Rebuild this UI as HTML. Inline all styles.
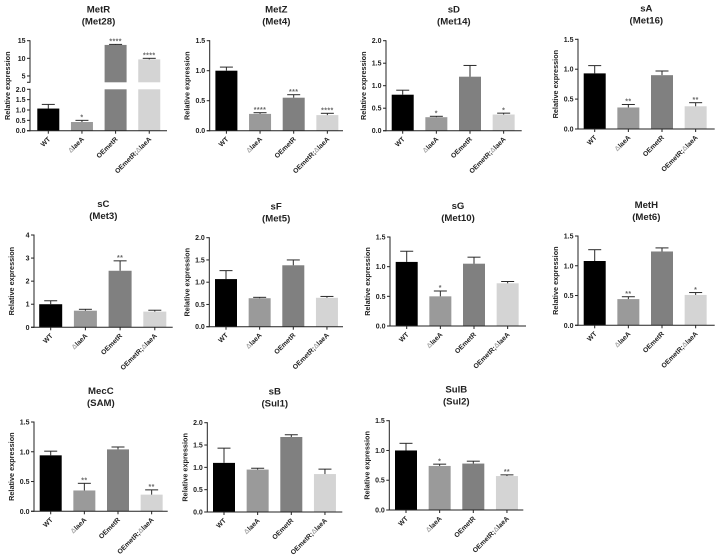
<!DOCTYPE html>
<html lang="en">
<head>
<meta charset="utf-8">
<title>Relative expression bar charts</title>
<style>
html,body{margin:0;padding:0;background:#fff;width:718px;height:558px;overflow:hidden}
svg{display:block;filter:blur(.35px)}
text{font-family:"Liberation Sans",sans-serif;fill:#222}
</style>
</head>
<body>
<svg id="figure" width="718" height="558" viewBox="0 0 718 558" xmlns="http://www.w3.org/2000/svg"></svg>
<script>
// Shared categories and tick labels
const categories = ["WT", "\u0394laeA", "OEmetR", "OEmetR;\u0394laeA"];
const ticks15 = [0, 0.5, 1, 1.5];
const ticks20 = [0, 0.5, 1, 1.5, 2];
const ticks4 = [0, 1, 2, 3, 4];
const ticksBrokenLow = [0, 0.5, 1, 1.5, 2];
const ticksBrokenHigh = [5, 10, 15];

// Means, upper error limits and significance marks
const metRValues = [1.07, 0.42, 13.8, 9.7];
const metRTops = [1.27, 0.5, 13.95, 10];
const metRSig = ["", "*", "****", "****"];
const metZValues = [1.0, 0.28, 0.55, 0.26];
const metZTops = [1.06, 0.3, 0.6, 0.29];
const metZSig = ["", "****", "***", "****"];
const sDValues = [0.8, 0.3, 1.2, 0.36];
const sDTops = [0.9, 0.32, 1.45, 0.39];
const sDSig = ["", "*", "", "*"];
const sAValues = [0.93, 0.36, 0.9, 0.38];
const sATops = [1.06, 0.41, 0.97, 0.44];
const sASig = ["", "**", "", "**"];
const sCValues = [1.0, 0.72, 2.45, 0.68];
const sCTops = [1.15, 0.78, 2.88, 0.74];
const sCSig = ["", "", "**", ""];
const sFValues = [1.07, 0.64, 1.38, 0.65];
const sFTops = [1.26, 0.66, 1.5, 0.68];
const sFSig = ["", "", "", ""];
const sGValues = [1.08, 0.5, 1.05, 0.72];
const sGTops = [1.26, 0.59, 1.16, 0.75];
const sGSig = ["", "*", "", ""];
const metHValues = [1.08, 0.44, 1.24, 0.51];
const metHTops = [1.27, 0.48, 1.3, 0.55];
const metHSig = ["", "**", "", "*"];
const mecCValues = [0.94, 0.35, 1.04, 0.28];
const mecCTops = [1.01, 0.47, 1.08, 0.36];
const mecCSig = ["", "**", "", "**"];
const sBValues = [1.1, 0.95, 1.68, 0.85];
const sBTops = [1.43, 0.98, 1.73, 0.96];
const sBSig = ["", "", "", ""];
const sulBValues = [1.0, 0.74, 0.78, 0.57];
const sulBTops = [1.12, 0.77, 0.82, 0.59];
const sulBSig = ["", "*", "", "**"];

const barColors = ["#000000", "#9a9a9a", "#808080", "#d4d4d4"];
const svg = document.getElementById("figure");
const NS = "http://www.w3.org/2000/svg";

function add(parent, tag, attrs) {
  const el = document.createElementNS(NS, tag);
  for (const k in attrs) el.setAttribute(k, attrs[k]);
  parent.appendChild(el);
  return el;
}

function drawChart(c) {
  const g = add(svg, "g", {});
  
  

  const t1 = add(g, "text", {x: (c.left + c.right) / 2, y: c.top - 28, "text-anchor": "middle", "font-size": 9.6, "font-weight": "bold"});
  t1.textContent = c.title;
  
  
  const t2 = add(g, "text", {x: (c.left + c.right) / 2, y: c.top - 16, "text-anchor": "middle", "font-size": 9.6, "font-weight": "bold"});
  t2.textContent = c.subtitle;
  
  

  const mid = (c.top + c.base) / 2;
  const yt = add(g, "text", {x: 0, y: 0, transform: "translate(" + (c.left - 20) + "," + mid + ") rotate(-90)", "text-anchor": "middle", "font-size": 7.3, "font-weight": "bold"});
  yt.textContent = "Relative expression";
  
  

  const step = c.step || 33.65;
  const first = c.first || 16.7;
  const xOf = i => c.left + first + step * i;

  // bars in each axis segment
  c.segments.forEach(s => {
    const y = v => s.y0 + (v - s.min) / (s.max - s.min) * (s.y1 - s.y0);
    c.values.forEach((v, i) => {
      if (v <= s.min) return;
      const top = y(Math.min(v, s.max));
      const bar = add(g, "rect", {x: xOf(i) - c.barW / 2, y: top, width: c.barW, height: s.y0 - top, fill: barColors[i]});
      
      
    });
    // axis segment
    const line = add(g, "line", {x1: c.left, x2: c.left, y1: s.y0 + 0.5, y2: s.y1 - 0.5, stroke: "#222", "stroke-width": 1});
    
    
    s.ticks.forEach(tv => {
      const ty = y(tv);
      const tk = add(g, "line", {x1: c.left - 3, x2: c.left, y1: ty, y2: ty, stroke: "#222", "stroke-width": 1});
      
      
      const lb = add(g, "text", {x: c.left - 4.5, y: ty + 2.5, "text-anchor": "end", "font-size": 7, "font-weight": "bold"});
      lb.textContent = c.intLabels || s.intLabels ? String(tv) : tv.toFixed(1);
      
      
    });
    if (s.breakTick) {
      const bk = add(g, "line", {x1: c.left - 3, x2: c.left, y1: s.y0, y2: s.y0, stroke: "#222", "stroke-width": 1});
      
      
    }
    // error bars and significance marks
    c.values.forEach((v, i) => {
      if (v <= s.min || v > s.max) return;
      const capY = y(c.tops[i]);
      const stem = add(g, "line", {x1: xOf(i), x2: xOf(i), y1: y(v), y2: capY, stroke: "#2a2a2a", "stroke-width": 1});
      
      
      const cap = add(g, "line", {x1: xOf(i) - 6.5, x2: xOf(i) + 6.5, y1: capY, y2: capY, stroke: "#2a2a2a", "stroke-width": 1});
      
      
      if (c.sig[i]) {
        const st = add(g, "text", {x: xOf(i), y: capY - 0.8, "text-anchor": "middle", "font-size": 7, "font-weight": "bold", style: "fill:#666;letter-spacing:.4px"});
        st.textContent = c.sig[i];
        
        
      }
    });
  });

  const xa = add(g, "line", {x1: c.left - 3, x2: c.right, y1: c.base, y2: c.base, stroke: "#222", "stroke-width": 1});
  
  

  categories.forEach((name, i) => {
    const tk = add(g, "line", {x1: xOf(i), x2: xOf(i), y1: c.base, y2: c.base + 3, stroke: "#222", "stroke-width": 1});
    
    
    const lb = add(g, "text", {x: 0, y: 0, transform: "translate(" + (xOf(i) + 2.5) + "," + (c.base + 9) + ") rotate(-45)", "text-anchor": "end", "font-size": 6.8, "font-weight": "bold"});
    
    
    const parts = name.split("\u0394");
    if (parts.length === 2) {
      add(lb, "tspan", {}).textContent = parts[0];
      add(lb, "tspan", {style: "fill:#aaa"}).textContent = "\u0394";
      add(lb, "tspan", {}).textContent = parts[1];
    } else {
      lb.textContent = name;
    }
  });
}

function simple(id, title, subtitle, left, right, top, base, max, ticks, values, tops, sig, barW, intLabels, step) {
  drawChart({id, title, subtitle, left, right, top, base, values, tops, sig, barW: barW || 22, intLabels, step,
    segments: [{min: 0, max: max, y0: base, y1: top, ticks: ticks}]});
}

drawChart({id: "metr", title: "MetR", subtitle: "(Met28)", left: 30, right: 167, top: 40.7, base: 130.7, first: 18.3,
  values: metRValues, tops: metRTops, sig: metRSig, barW: 22,
  segments: [
    {min: 0, max: 2, y0: 130.7, y1: 89.3, ticks: ticksBrokenLow},
    {min: 3.2, max: 15, y0: 82.3, y1: 40.7, ticks: ticksBrokenHigh, intLabels: true, breakTick: true}
  ]});
simple("metz", "MetZ", "(Met4)", 209.7, 343, 40.7, 130.7, 1.5, ticks15, metZValues, metZTops, metZSig);
simple("sd", "sD", "(Met14)", 386, 521.7, 40.7, 130.7, 2, ticks20, sDValues, sDTops, sDSig);
simple("sa", "sA", "(Met16)", 578, 714.7, 39.3, 129, 1.5, ticks15, sAValues, sATops, sASig);
simple("sc", "sC", "(Met3)", 34, 172.7, 235, 327.3, 4, ticks4, sCValues, sCTops, sCSig, 23, true, 34.7);
simple("sf", "sF", "(Met5)", 209.3, 343, 237.7, 326.7, 2, ticks20, sFValues, sFTops, sFSig);
simple("sg", "sG", "(Met10)", 390, 526, 237, 326, 1.5, ticks15, sGValues, sGTops, sGSig);
simple("meth", "MetH", "(Met6)", 578, 714.7, 236, 325.3, 1.5, ticks15, metHValues, metHTops, metHSig);
simple("mecc", "MecC", "(SAM)", 34, 167.7, 422, 511.3, 1.5, ticks15, mecCValues, mecCTops, mecCSig);
simple("sb", "sB", "(Sul1)", 207.3, 342.3, 422.7, 512, 2, ticks20, sBValues, sBTops, sBSig);
simple("sulb", "SulB", "(Sul2)", 389.3, 523.3, 420.7, 510, 1.5, ticks15, sulBValues, sulBTops, sulBSig);
</script>
</body>
</html>
